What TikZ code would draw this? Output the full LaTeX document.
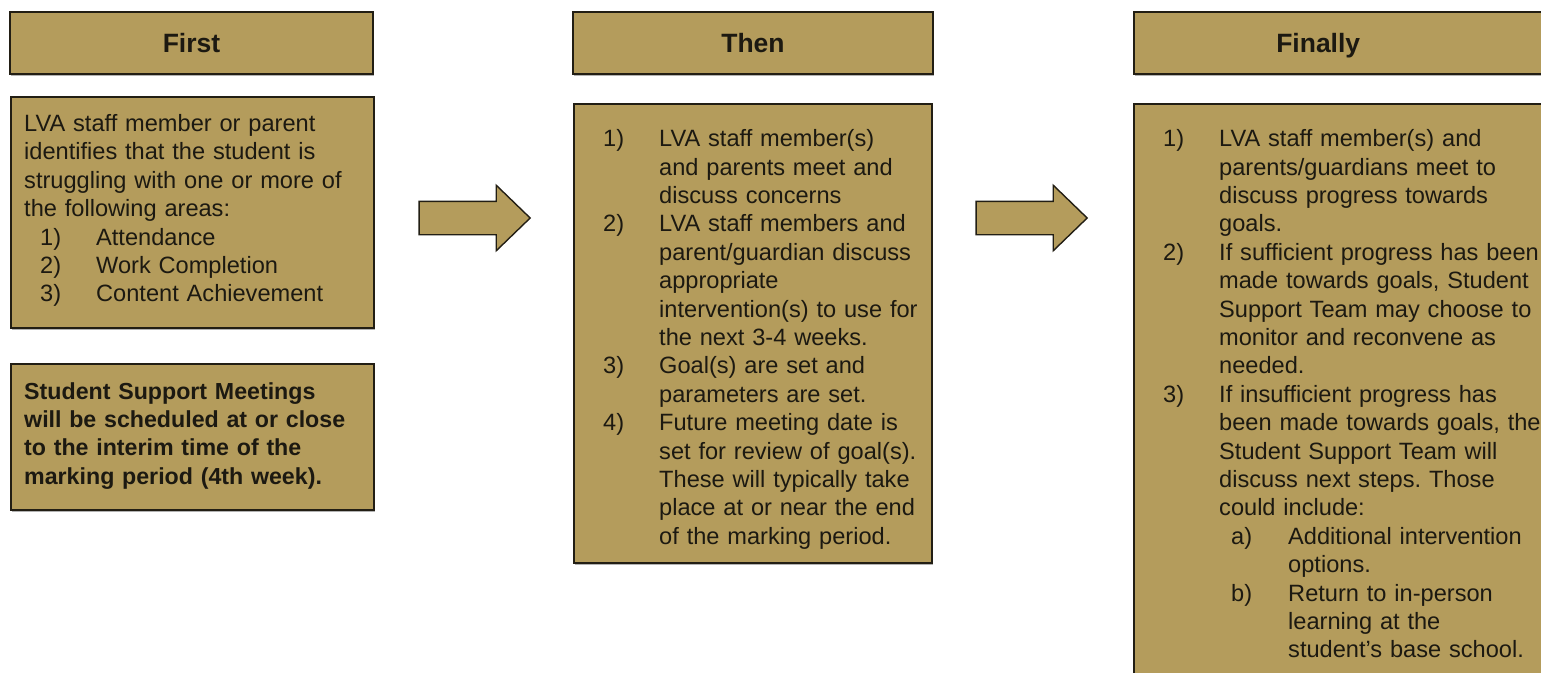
\documentclass[tikz,border=0pt]{standalone}
\usepackage{fontspec}
\setmainfont{Liberation Sans}
\usepackage{tikz}
\usetikzlibrary{shapes.arrows,shadows}

\definecolor{boxgold}{RGB}{180,156,92}
\definecolor{boxline}{RGB}{34,30,20}
\definecolor{boxink}{RGB}{28,25,17}

\newcommand{\boxfont}{\fontsize{23.6pt}{28.4pt}\selectfont\parskip=0pt\frenchspacing}
\newcommand{\headfont}{\fontsize{26.5pt}{30pt}\selectfont\bfseries}
\newcommand{\listpara}[3]{\par\leftskip=#1\hangindent=#2\hangafter=1\noindent\makebox[#2][l]{\strut#3}\ignorespaces}
\newcommand{\numline}[1]{\listpara{16pt}{56pt}{#1}}
\newcommand{\letline}[1]{\listpara{84pt}{57pt}{#1}}

\tikzset{
  panel/.style={rectangle, draw=boxline, line width=2.4pt, fill=boxgold, inner sep=0pt,
    drop shadow={shadow xshift=1.2pt, shadow yshift=-1.6pt, fill=black, opacity=.3}},
  heading/.style={panel, minimum height=62pt, text height=19pt, text depth=0pt, font=\headfont, text=boxink},
  bodybox/.style={panel, anchor=north west},
  bodytext/.style={anchor=north west, inner sep=0pt, align=left, font=\boxfont, text=boxink},
  stepper/.style={single arrow, draw=boxline, line width=1.4pt, fill=boxgold,
    inner xsep=0pt, inner ysep=16pt, single arrow head extend=16pt,
    single arrow tip angle=88, minimum height=111pt}
}

\begin{document}
\begin{tikzpicture}[x=1pt, y=-1pt]

    \useasboundingbox (0,0) rectangle (1541,672);

    \node[heading, minimum width=363pt] (firsthead) at (191.5,43) {First};

    \node[bodybox, minimum width=363pt, minimum height=231pt] (firstbox) at (10,96) {};
    \node[bodytext, text width=343pt] (firsttext) at ([shift={(14pt,-15.5pt)}]firstbox.north west)
      {\strut LVA staff member or parent\newline identifies that the student is\newline
       struggling with one or more of\newline the following areas:
       \numline{1)}Attendance
       \numline{2)}Work Completion
       \numline{3)}Content Achievement\par};

    \node[bodybox, minimum width=363pt, minimum height=146pt] (meetbox) at (10,363) {};
    \node[bodytext, text width=343pt, font={\boxfont\fontsize{23.2pt}{28.2pt}\selectfont\bfseries}] (meettext) at ([shift={(14pt,-16.5pt)}]meetbox.north west)
      {\strut Student Support Meetings\newline will be scheduled at or close\newline
       to the interim time of the\newline marking period (4th week).\par};

    \node[stepper] (stepA) at (466,218) {};

    \begin{scope}[xshift=563pt]

      \node[heading, minimum width=360pt] (thenhead) at (190,43) {Then};

      \node[bodybox, minimum width=358pt, minimum height=459pt] (thenbox) at (10,103) {};
      \node[bodytext, text width=338pt] (thentext) at ([shift={(14pt,-15pt)}]thenbox.north west)
        {\numline{1)}LVA staff member(s)\newline and parents meet and\newline discuss concerns
         \numline{2)}LVA staff members and\newline parent/guardian discuss\newline appropriate\newline
           intervention(s) to use for\newline the next 3-4 weeks.
         \numline{3)}Goal(s) are set and\newline parameters are set.
         \numline{4)}Future meeting date is\newline set for review of goal(s).\newline
           These will typically take\newline place at or near the end\newline of the marking period.\par};

    \end{scope}

    \node[stepper] (stepB) at (1023,218) {};

    \begin{scope}[xshift=1123pt]

      \node[heading, minimum width=420pt, anchor=west] (finalhead) at (10,43) {\hspace*{-52pt}Finally};

      \node[bodybox, minimum width=420pt, minimum height=600pt] (finalbox) at (10,103) {};
      \node[bodytext, text width=400pt] (finaltext) at ([shift={(14pt,-15pt)}]finalbox.north west)
        {\numline{1)}LVA staff member(s) and\newline parents/guardians meet to\newline
           discuss progress towards\newline goals.
         \numline{2)}If sufficient progress has been\newline made towards goals, Student\newline
           Support Team may choose to\newline monitor and reconvene as\newline needed.
         \numline{3)}If insufficient progress has\newline been made towards goals, the\newline
           Student Support Team will\newline discuss next steps. Those\newline could include:
         \letline{a)}Additional intervention\newline options.
         \letline{b)}Return to in-person\newline learning at the\newline student's base school.\par};

    \end{scope}

\end{tikzpicture}
\end{document}
